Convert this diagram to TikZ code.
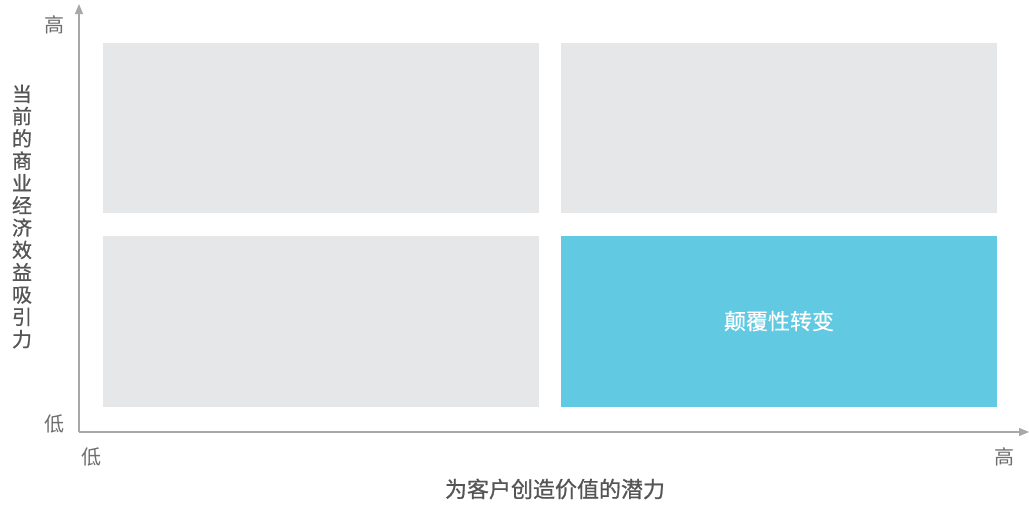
\documentclass[tikz,border=0pt]{standalone}
\usepackage{fontspec}
\setmainfont{Noto Sans CJK SC}
\newfontfamily\medfont[FakeBold=0.8]{Noto Sans CJK SC}
\newfontfamily\lightmed[FakeBold=0.3]{Noto Sans CJK SC}
\usetikzlibrary{arrows.meta}
\definecolor{axisgray}{HTML}{A8A8A8}
\definecolor{boxgray}{HTML}{E6E7E8}
\definecolor{boxblue}{HTML}{62C9E2}
\definecolor{txtgray}{HTML}{6E6E6E}
\definecolor{txtdark}{HTML}{555555}
\begin{document}
\begin{tikzpicture}[x=1pt,y=-1pt,
  quad/.style={fill=boxgray,draw=none},
  axis/.style={draw=axisgray,line width=1.2pt,-{Triangle[length=10pt,width=8pt]}},
  tick/.style={text=txtgray,font=\fontsize{20}{20}\selectfont,inner sep=0pt},
  axlabel/.style={text=txtdark,font=\medfont\fontsize{22}{22}\selectfont,inner sep=0pt}]
\useasboundingbox (0,0) rectangle (1029,504);
\fill[white] (0,0) rectangle (1029,504);
\fill[quad] (103,43) rectangle (539,213);
\fill[quad] (561,43) rectangle (997,213);
\fill[quad] (103,236) rectangle (539,407);
\fill[boxblue] (561,236) rectangle (997,407);
\node[text=white,font=\lightmed\fontsize{22}{22}\selectfont,inner sep=0pt] (dis) at (779,321) {颠覆性转变};
\coordinate (o) at (79,432);
\coordinate (ytop) at (79,4);
\coordinate (xend) at (1029,432);
\draw[axis] (o) -- (ytop);
\draw[axis] (o) -- (xend);
\node[tick] (yh) at (54,25) {高};
\node[tick] (yl) at (54,424) {低};
\node[tick] (xl) at (91,457) {低};
\node[tick] (xh) at (1004,457) {高};
\node[axlabel,align=center,font=\medfont\fontsize{20}{22.3}\selectfont] (ylab) at (22,216.5) {当\\前\\的\\商\\业\\经\\济\\效\\益\\吸\\引\\力};
\node[axlabel] (xlab) at (555,489) {为客户创造价值的潜力};
\end{tikzpicture}
\end{document}
